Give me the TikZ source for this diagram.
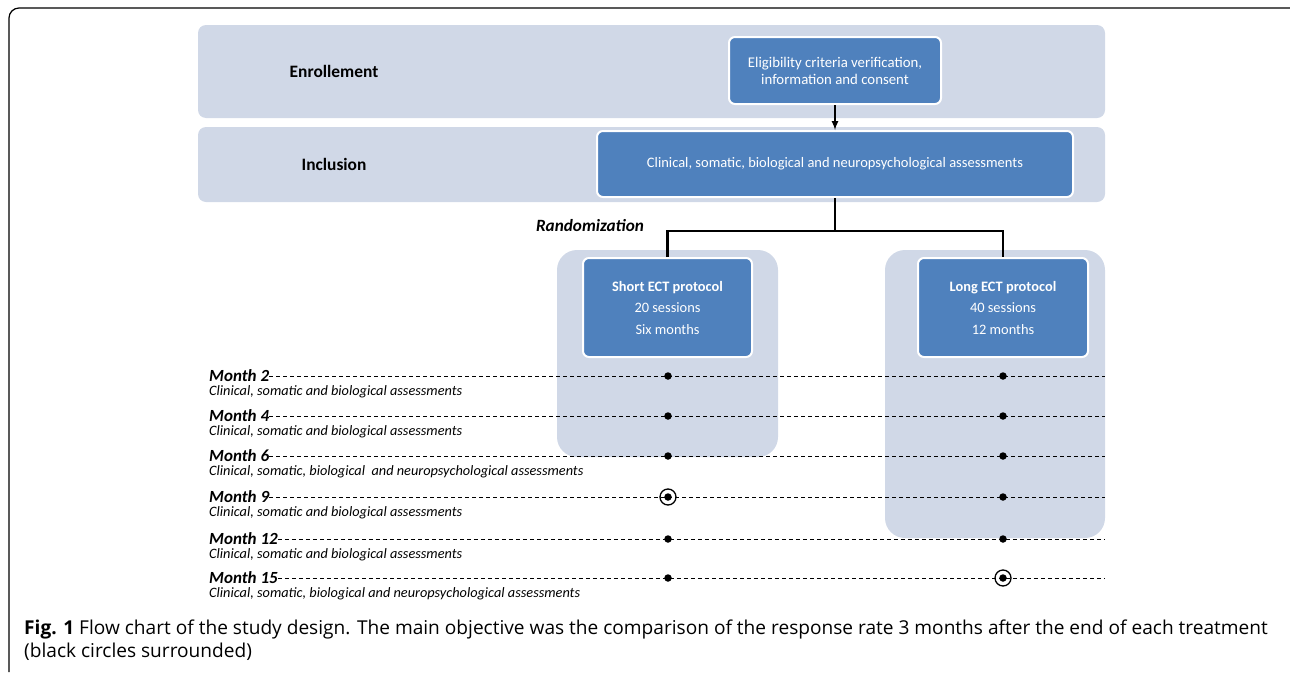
\documentclass[tikz,border=0pt]{standalone}
\usepackage{fontspec}
\setmainfont{Carlito}
\newfontfamily\capfont{Open Sans}
\usetikzlibrary{arrows.meta}
\definecolor{bandgray}{RGB}{208,216,231}
\definecolor{boxblue}{RGB}{79,129,189}

\begin{document}
\begin{tikzpicture}[x=1pt,y=-1pt,
	band/.style={fill=bandgray,rounded corners=8pt},
	lane/.style={fill=bandgray,rounded corners=20pt},
	bluebox/.style={draw=white,fill=boxblue,line width=2pt,rounded corners=6pt,text=white,align=center,inner sep=0pt},
	phase/.style={font=\fontsize{17.4}{20}\selectfont\bfseries},
	month/.style={anchor=west,inner sep=0pt,font=\fontsize{17}{20}\selectfont\bfseries\itshape},
	visit/.style={anchor=west,inner sep=0pt,font=\fontsize{14.3}{17}\selectfont\itshape},
	dot/.style={circle,fill=black,inner sep=0pt,minimum size=7.5pt},
	ring/.style={circle,draw=black,line width=1.3pt,inner sep=0pt,minimum size=16pt},
	timeline/.style={dash pattern=on 4pt off 3pt,line width=0.8pt}]
			\useasboundingbox (0,0) rectangle (1290,672);
			\draw[line width=1.2pt,rounded corners=10pt] (9,672) -- (9,8) -- (1290,8);
			\fill[band] (198,25) rectangle (1105,118);
			\fill[band] (198,127) rectangle (1105,202);
			\fill[lane] (557,250) rectangle (778,457);
			\fill[lane] (885,250) rectangle (1105,538);
			\node[phase] (enrol) at (334,71) {Enrollement};
			\node[phase] (incl) at (334,164) {Inclusion};
			\node[bluebox,minimum width=212pt,minimum height=67pt,font=\fontsize{14.8}{17}\selectfont] (elig) at (835,70.5) {Eligibility criteria verification,\\information and consent};
			\node[bluebox,minimum width=476pt,minimum height=66pt,font=\fontsize{14.5}{16}\selectfont] (clin) at (835,164) {Clinical, somatic, biological and neuropsychological assessments};
			\node[bluebox,minimum width=169pt,minimum height=99pt,font=\fontsize{14.4}{21.5}\selectfont] (short) at (667.5,307.5) {\textbf{Short ECT protocol}\\20 sessions\\Six months};
			\node[bluebox,minimum width=170pt,minimum height=99pt,font=\fontsize{14.4}{21.5}\selectfont] (long) at (1003,307.5) {\textbf{Long ECT protocol}\\40 sessions\\12 months};
			\draw[-latex,line width=2pt] (elig) -- (clin);
			\coordinate (split) at (835,231);
			\draw[line width=2.2pt] (clin) -- (split);
			\draw[line width=2.2pt] (short.north) |- (split) -| (long.north);
			\node[font=\fontsize{17.2}{20}\selectfont\bfseries\itshape] (rand) at (590,226) {Randomization};
			\foreach \yy/\mo/\what in {376/2/{Clinical, somatic and biological assessments},
				416/4/{Clinical, somatic and biological assessments},
				456/6/{Clinical, somatic, biological\ \ and neuropsychological assessments},
				497/9/{Clinical, somatic and biological assessments},
				539/12/{Clinical, somatic and biological assessments},
				578/15/{Clinical, somatic, biological and neuropsychological assessments}}{
				\node[month] (m\mo) at (209,\yy) {Month \mo};
				\node[visit] (v\mo) at (209,\yy+16) {\what};
				\coordinate (e\mo) at (1105,\yy);
				\draw[timeline] (m\mo.east) -- (e\mo);
				\node[dot] (s\mo) at (668,\yy) {};
				\node[dot] (l\mo) at (1003,\yy) {};
			}
			\node[ring] (r9) at (s9) {};
			\node[ring] (r15) at (l15) {};
			\node[anchor=base west,align=left,inner sep=0pt,font=\capfont\fontsize{19.1}{23}\selectfont] (cap) at (24,657) {\textbf{Fig. 1} Flow chart of the study design. The main objective was the comparison of the response rate 3 months after the end of each treatment\\(black circles surrounded)};
		\end{tikzpicture}
\end{document}
